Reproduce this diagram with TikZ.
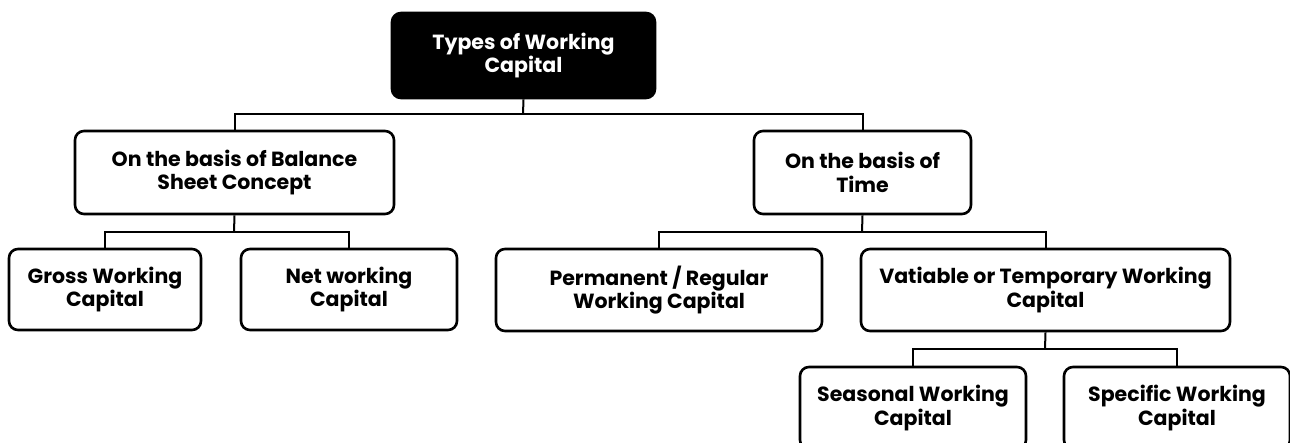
\documentclass[tikz,border=0pt]{standalone}
\usepackage{fontspec}
\setmainfont{Poppins}
\begin{document}
\begin{tikzpicture}[x=1pt,y=-1pt,
  box/.style={draw=black, line width=2.6pt, rounded corners=9pt, fill=white,
    align=center, inner sep=0pt, font=\fontsize{20.5}{23.5}\selectfont\bfseries},
  rootbox/.style={box, fill=black, text=white},
  conn/.style={draw=black, line width=2pt}]
\useasboundingbox (0,0) rectangle (1290,442);
\clip (0,0) rectangle (1290,442);
% nodes
\node[rootbox, minimum width=263pt, minimum height=85pt] (root) at (523.5,55.5) {Types of Working\\Capital};
\node[box, minimum width=319pt, minimum height=83pt] (bal) at (234.5,172.5) {On the basis of Balance\\Sheet Concept};
\node[box, minimum width=217pt, minimum height=83pt] (time) at (862.5,172.5) {On the basis of\\Time};
\node[box, minimum width=192pt, minimum height=81pt] (gross) at (105,289.5) {Gross Working\\Capital};
\node[box, minimum width=216pt, minimum height=81pt] (net) at (349,289.5) {Net working\\Capital};
\node[box, minimum width=326pt, minimum height=82pt] (perm) at (659,290) {Permanent / Regular\\Working Capital};
\node[box, minimum width=369pt, minimum height=82pt] (var) at (1045.5,290) {Vatiable or Temporary Working\\Capital};
\node[box, minimum width=226pt, minimum height=82pt] (seas) at (913,408) {Seasonal Working\\Capital};
\node[box, minimum width=226pt, minimum height=82pt] (spec) at (1177,408) {Specific Working\\Capital};
% junction points
\coordinate (j0) at (523,114);
\coordinate (j1) at (234,232);
\coordinate (j2) at (862,232);
\coordinate (j3) at (1045,349);
% connectors
\draw[conn] (root.south) -- (j0);
\draw[conn] (bal.north) |- (j0) -| (time.north);
\draw[conn] (bal.south) -- (j1);
\draw[conn] (gross.north) |- (j1) -| (net.north);
\draw[conn] (time.south) -- (j2);
\draw[conn] (perm.north) |- (j2) -| (var.north);
\draw[conn] (var.south) -- (j3);
\draw[conn] (seas.north) |- (j3) -| (spec.north);
\end{tikzpicture}
\end{document}
